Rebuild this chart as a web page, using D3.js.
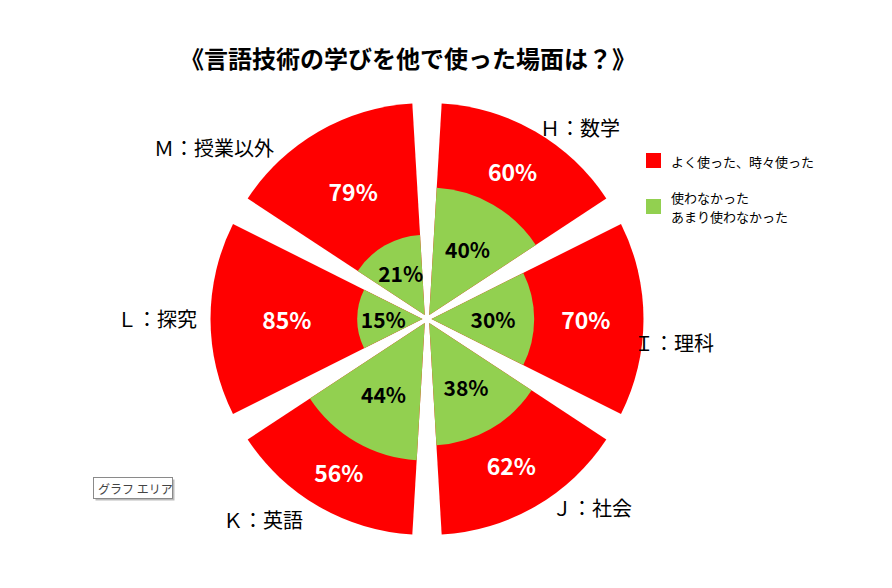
<!DOCTYPE html>
<html><head><meta charset="utf-8">
<script src="https://cdn.jsdelivr.net/npm/d3@7/dist/d3.min.js"></script>
<style>
html,body{margin:0;padding:0;background:#fff;}
text{font-family:"Noto Sans CJK JP","Noto Sans",sans-serif;}
</style></head>
<body>
<svg id="chart" width="892" height="588"></svg>
<script>
const title = "《言語技術の学びを他で使った場面は？》";
const categories = ["Ｈ：数学","Ｉ：理科","Ｊ：社会","Ｋ：英語","Ｌ：探究","Ｍ：授業以外"];
const usedValues = [60,70,62,56,85,79];
const notUsedValues = [40,30,38,44,15,21];
const legendUsed = ["よく使った、時々使った"];
const legendNotUsed = ["使わなかった","あまり使わなかった"];
const tooltipText = "グラフ エリア";

const svg = d3.select("#chart");
const W = 892, H = 588;
const cx = 427, cy = 319;
const R = 212;
const explode = 4.5;
const red = "#FF0000", green = "#92D050";
// layout nudges for the category labels (dx, dy from default outside position)
const labelNudge = [[29,23],[-1,23],[41,-26],[-40,-14],[-22,-1],[-89,43]];

svg.append("rect").attr("width",W).attr("height",H).attr("fill","#fff");

svg.append("text").attr("x",408).attr("y",57)
  .attr("text-anchor","middle").attr("dominant-baseline","central")
  .attr("font-size",24).attr("font-weight","bold").attr("fill","#000")
  .text(title);

const angle = d3.scaleBand().domain(categories).range([0, 2*Math.PI])
  .paddingInner(0.112).paddingOuter(0.056);
const radius = d3.scaleLinear().domain([0,45,100]).range([28,140,R]);

const data = categories.map((c,i)=>({cat:c, used:usedValues[i], notUsed:notUsedValues[i]}));
const arc = d3.arc();

const g = svg.append("g").attr("transform",`translate(${cx},${cy})`);

data.forEach((d,i)=>{
  const a0 = angle(d.cat), a1 = a0 + angle.bandwidth();
  const mid = (a0+a1)/2;
  const ox = explode*Math.sin(mid), oy = -explode*Math.cos(mid);
  const sg = g.append("g").attr("transform",`translate(${ox},${oy})`);
  const rg = radius(d.notUsed), rTot = radius(d.used + d.notUsed);
  sg.append("path").attr("d", arc({innerRadius:0, outerRadius:rTot, startAngle:a0, endAngle:a1})).attr("fill",red);
  sg.append("path").attr("d", arc({innerRadius:0, outerRadius:rg, startAngle:a0, endAngle:a1})).attr("fill",green);
  const rr = (rg + rTot)/2 - 3;
  sg.append("text").attr("x", rr*Math.sin(mid)).attr("y", -rr*Math.cos(mid))
    .attr("text-anchor","middle").attr("dominant-baseline","central")
    .attr("font-size",23).attr("font-weight","bold").attr("fill","#fff")
    .text(d.used + "%");
  const gr = rg*0.6;
  sg.append("text").attr("x", gr*Math.sin(mid)).attr("y", -gr*Math.cos(mid))
    .attr("text-anchor","middle").attr("dominant-baseline","central")
    .attr("font-size",21).attr("font-weight","bold").attr("fill","#000")
    .text(d.notUsed + "%");
  const lr = R + 36;
  const lx = lr*Math.sin(mid) + labelNudge[i][0], ly = -lr*Math.cos(mid) + labelNudge[i][1];
  g.append("text").attr("x", lx).attr("y", ly)
    .attr("text-anchor","middle")
    .attr("dominant-baseline","central")
    .attr("font-size",20).attr("fill","#000")
    .text(d.cat);
});

// legend
const lg = svg.append("g");
lg.append("rect").attr("x",646).attr("y",153).attr("width",15).attr("height",15).attr("fill",red);
lg.append("text").attr("x",671).attr("y",161).attr("dominant-baseline","central")
  .attr("font-size",13).attr("fill","#000").text(legendUsed[0]);
lg.append("rect").attr("x",646).attr("y",199).attr("width",15).attr("height",15).attr("fill",green);
legendNotUsed.forEach((t,i)=>{
  lg.append("text").attr("x",671).attr("y",197 + i*19).attr("dominant-baseline","central")
    .attr("font-size",13).attr("fill","#000").text(t);
});

// tooltip artifact
const tg = svg.append("g");
tg.append("rect").attr("x",95.5).attr("y",479.5).attr("width",79).attr("height",21).attr("fill","#bbb");
tg.append("rect").attr("x",93.5).attr("y",477.5).attr("width",79).attr("height",21)
  .attr("fill","#fff").attr("stroke","#8a8a8a");
tg.append("text").attr("x",98).attr("y",488).attr("dominant-baseline","central")
  .attr("font-size",12).attr("fill","#444").text(tooltipText);
</script>
</body></html>
